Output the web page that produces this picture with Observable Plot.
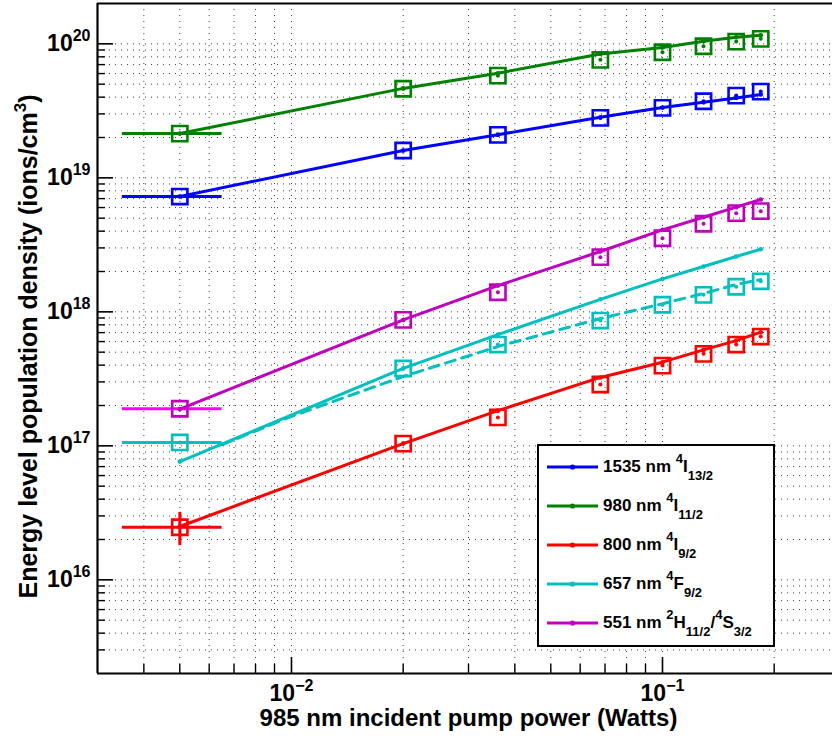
<!DOCTYPE html>
<html>
<head>
<meta charset="utf-8">
<script src="https://cdn.jsdelivr.net/npm/d3@7"></script>
<script src="https://cdn.jsdelivr.net/npm/@observablehq/plot@0.6"></script>
<style>
  html, body { margin: 0; padding: 0; background: #fff; overflow: hidden; }
  #wrap { position: relative; width: 832px; height: 744px; overflow: hidden; font-family: "Liberation Sans", Arial, Helvetica, sans-serif; }
  #legend { position: absolute; left: 537px; top: 444px; width: 234px; height: 199px; border: 2px solid #000; background: #fff; }
  .row { position: absolute; left: 0; height: 24px; width: 234px; }
  .row svg { position: absolute; left: 8px; top: 0; }
  .row .lab { position: absolute; left: 64px; top: 0; line-height: 24px; font-size: 17px; font-weight: bold; white-space: nowrap; color: #000; }
  .sup { position: relative; top: -9px; font-size: 13px; }
  .sub { position: relative; top: 8px; font-size: 13px; }
</style>
</head>
<body>
<div id="wrap"></div>
<script>
// ---------- data ----------
const pumpPower = [0.005, 0.02, 0.036, 0.068, 0.1, 0.129, 0.158, 0.184];

const measured1535 = [7.25e18, 1.60e19, 2.09e19, 2.80e19, 3.33e19, 3.73e19, 4.11e19, 4.40e19];
const measured980  = [2.14e19, 4.62e19, 5.79e19, 7.60e19, 8.65e19, 9.60e19, 1.04e20, 1.09e20];
const measured800  = [2.47e16, 1.04e17, 1.63e17, 2.87e17, 3.97e17, 4.86e17, 5.70e17, 6.54e17];
const measured657  = [1.06e17, 3.78e17, 5.70e17, 8.61e17, 1.13e18, 1.34e18, 1.54e18, 1.69e18];
const measured551  = [1.89e17, 8.71e17, 1.40e18, 2.56e18, 3.54e18, 4.54e18, 5.45e18, 5.64e18];

const model1535 = [7.25e18, 1.60e19, 2.10e19, 2.83e19, 3.35e19, 3.66e19, 3.95e19, 4.19e19];
const model980  = [2.14e19, 4.65e19, 6.04e19, 8.40e19, 9.40e19, 1.045e20, 1.12e20, 1.16e20];
const model800  = [2.50e16, 1.04e17, 1.83e17, 3.24e17, 4.21e17, 5.20e17, 6.10e17, 7.05e17];
const model657  = [7.63e16, 3.78e17, 6.77e17, 1.24e18, 1.76e18, 2.18e18, 2.59e18, 2.93e18];
const model551  = [1.88e17, 8.70e17, 1.57e18, 2.82e18, 4.09e18, 5.08e18, 6.04e18, 6.89e18];

// dashed fit through the 657 nm measurements
const fit657Power = [0.0065, 0.01, 0.02, 0.036, 0.068, 0.1, 0.129, 0.158, 0.184];
const fit657      = [1.02e17, 1.66e17, 3.29e17, 5.51e17, 8.91e17, 1.15e18, 1.37e18, 1.60e18, 1.74e18];

// error bars on the lowest-power point
const xErrorRange = [0.0035, 0.0065];
const yError800 = [1.80e16, 3.19e16];

const seriesNames = ["1535", "980", "800", "657", "551"];
const seriesColors = ["#0000ff", "#008000", "#ff0000", "#00bfbf", "#bf00bf"];
const errorBarColors = ["#0000ff", "#008000", "#ff0000", "#00bfbf", "#ff00ff"];
const legendLabels = [
  "1535 nm ^{4}I_{13/2}",
  "980 nm ^{4}I_{11/2}",
  "800 nm ^{4}I_{9/2}",
  "657 nm ^{4}F_{9/2}",
  "551 nm ^{2}H_{11/2}/^{4}S_{3/2}"
];
const measuredSets = [measured1535, measured980, measured800, measured657, measured551];
const modelSets = [model1535, model980, model800, model657, model551];

const xDomain = [0.003, 0.3];
const yDomain = [2e15, 2e20];
const xTickValues = [0.01, 0.1];
const xTickLabels = ["10^{\u22122}", "10^{\u22121}"];
const yTickValues = [1e16, 1e17, 1e18, 1e19, 1e20];
const yTickLabels = ["10^{16}", "10^{17}", "10^{18}", "10^{19}", "10^{20}"];
const xLabel = "985 nm incident pump power (Watts)";
const yLabel = "Energy level population density (ions/cm^{3})";

// ---------- build ----------
const W = 832, H = 744;
const mL = 97, mT = 3, mB = 71, mR = -7;
const frameW = W - mL - mR, frameH = H - mT - mB;

const xMinor = d3.scaleLog().domain(xDomain).ticks().filter(t => t > xDomain[0] * 1.0001 && t < xDomain[1] * 0.9999 && !xTickValues.some(v => Math.abs(v - t) / v < 1e-6));
const yMinor = d3.scaleLog().domain(yDomain).ticks().filter(t => t > yDomain[0] * 1.0001 && t < yDomain[1] * 0.9999 && !yTickValues.some(v => Math.abs(v - t) / v < 1e-6));
const xGrid = [...xMinor, ...xTickValues];
const yGrid = [...yMinor, ...yTickValues];

const marks = [];
// grid
marks.push(Plot.ruleX(xGrid, {x: d => d, stroke: "#000", strokeOpacity: 0.75, strokeWidth: 1, strokeDasharray: "1,5"}));
marks.push(Plot.ruleY(yGrid, {y: d => d, stroke: "#000", strokeOpacity: 0.75, strokeWidth: 1, strokeDasharray: "1,5"}));

// series
seriesNames.forEach((name, k) => {
  const color = seriesColors[k];
  const modelRows = pumpPower.map((p, i) => ({p, v: modelSets[k][i]}));
  const measRows = pumpPower.map((p, i) => ({p, v: measuredSets[k][i]}));
  marks.push(Plot.ruleY([{v: measRows[0].v, lo: xErrorRange[0], hi: xErrorRange[1]}], {y: "v", x1: "lo", x2: "hi", stroke: errorBarColors[k], strokeWidth: 3}));
  if (name === "800") {
    marks.push(Plot.ruleX([{p: pumpPower[0], lo: yError800[0], hi: yError800[1]}], {x: "p", y1: "lo", y2: "hi", stroke: color, strokeWidth: 3}));
  }
  if (name === "657") {
    const fitRows = fit657Power.map((p, i) => ({p, v: fit657[i]}));
    marks.push(Plot.line(fitRows, {x: "p", y: "v", stroke: color, strokeWidth: 3, strokeDasharray: "10,7"}));
  }
  marks.push(Plot.line(modelRows, {x: "p", y: "v", stroke: color, strokeWidth: 3}));
  marks.push(Plot.dot(modelRows, {x: "p", y: "v", r: 2.3, fill: color}));
  marks.push(Plot.dot(measRows, {x: "p", y: "v", symbol: "square", r: 8.6, stroke: color, strokeWidth: 2.6, fill: "none"}));
  marks.push(Plot.dot(measRows, {x: "p", y: "v", r: 2, fill: color}));
});

// frame
marks.push(Plot.ruleX([xDomain[0]], {x: d => d, stroke: "#000", strokeWidth: 2.2}));
marks.push(Plot.ruleY([yDomain[0]], {y: d => d, stroke: "#000", strokeWidth: 2.2}));
marks.push(Plot.ruleY([yDomain[1]], {y: d => d, stroke: "#000", strokeWidth: 2.2}));
// ticks (inward)
marks.push(Plot.ruleX(xTickValues, {x: d => d, insetTop: frameH - 16, stroke: "#000", strokeWidth: 1.6}));
marks.push(Plot.ruleX(xMinor, {x: d => d, insetTop: frameH - 9, stroke: "#000", strokeWidth: 1.4}));
marks.push(Plot.ruleY(yTickValues, {y: d => d, insetRight: frameW - 16, stroke: "#000", strokeWidth: 1.6}));
marks.push(Plot.ruleY(yMinor, {y: d => d, insetRight: frameW - 8, stroke: "#000", strokeWidth: 1.4}));
// tick labels
marks.push(Plot.text(xTickValues.map((v, i) => ({v, t: xTickLabels[i]})), {x: "v", text: "t", frameAnchor: "bottom", textAnchor: "middle", dy: 27, fontSize: 23, fontWeight: "bold", fill: "#000"}));
marks.push(Plot.text(yTickValues.map((v, i) => ({v, t: yTickLabels[i]})), {y: "v", text: "t", frameAnchor: "left", dx: -7, textAnchor: "end", fontSize: 23, fontWeight: "bold", fill: "#000"}));
// axis labels
marks.push(Plot.text([xLabel], {text: d => d, frameAnchor: "bottom", textAnchor: "middle", dy: 52, fontSize: 24, fontWeight: "bold", fill: "#000"}));
marks.push(Plot.text([yLabel], {text: d => d, frameAnchor: "left", textAnchor: "middle", lineAnchor: "middle", dx: -69, dy: 8, rotate: -90, fontSize: 25, fontWeight: "bold", fill: "#000"}));

const chart = Plot.plot({
  width: W, height: H,
  marginLeft: mL, marginRight: mR, marginTop: mT, marginBottom: mB,
  x: {type: "log", domain: xDomain, range: [mL, W - mR], axis: null},
  y: {type: "log", domain: yDomain, range: [H - mB, mT], axis: null},
  style: {fontFamily: "'Liberation Sans', Arial, Helvetica, sans-serif", background: "#fff", overflow: "hidden"},
  marks
});
document.getElementById("wrap").appendChild(chart);

// superscripts in SVG text: "a^{b}c"
d3.select(chart).selectAll("text").each(function () {
  const s = this.textContent;
  const m = s.match(/^(.*?)\^\{(.*?)\}(.*)$/);
  if (!m) return;
  const fs = parseFloat(this.getAttribute("font-size") || d3.select(this.parentNode).attr("font-size") || 23);
  const supSize = Math.round(fs * 0.68);
  const rise = Math.round(fs * 0.42);
  const t = d3.select(this);
  t.text(null);
  t.append("tspan").text(m[1]);
  t.append("tspan").attr("font-size", supSize).attr("dy", -rise).text(m[2]);
  if (m[3]) t.append("tspan").attr("dy", rise).text(m[3]);
});

// legend
function richLabel(s) {
  return s.replace(/\^\{(.*?)\}/g, '<span class="sup">$1</span>')
          .replace(/_\{(.*?)\}/g, '<span class="sub">$1</span>');
}
const legend = document.createElement("div");
legend.id = "legend";
const rowCenters = [20.7, 60, 99.3, 138.3, 177.3];
legendLabels.forEach((lab, k) => {
  const row = document.createElement("div");
  row.className = "row";
  row.style.top = (rowCenters[k] - 12) + "px";
  row.innerHTML = `<svg width="52" height="24"><line x1="0" x2="51" y1="12" y2="12" stroke="${seriesColors[k]}" stroke-width="3"/><circle cx="25.5" cy="12" r="2.6" fill="${seriesColors[k]}"/></svg><div class="lab">${richLabel(lab)}</div>`;
  legend.appendChild(row);
});
document.getElementById("wrap").appendChild(legend);
</script>
</body>
</html>
